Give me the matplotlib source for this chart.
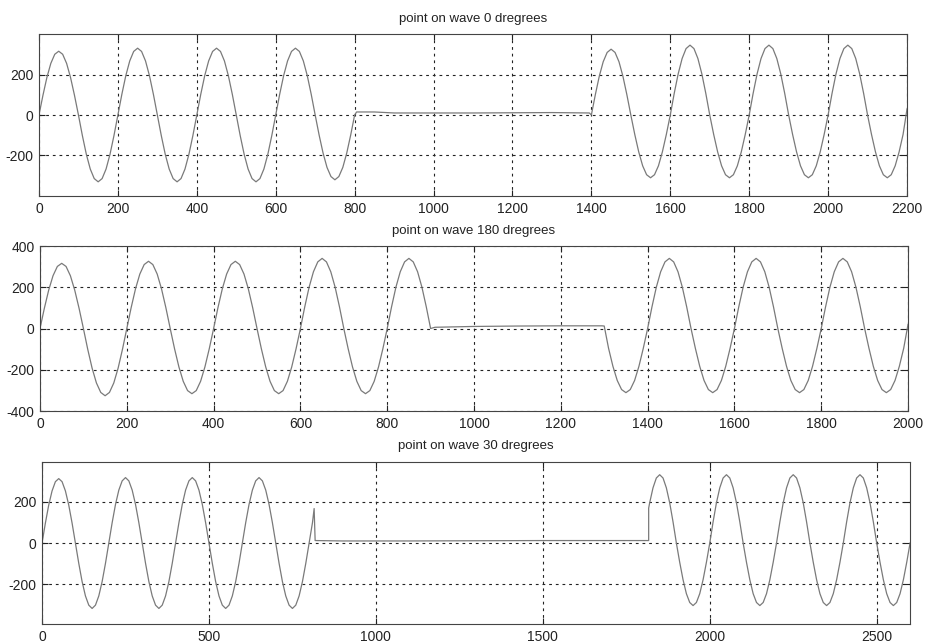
import matplotlib.pyplot as plt
import numpy as np

plt.rcParams['font.family'] = ['Liberation Sans', 'DejaVu Sans']
plt.rcParams['axes.unicode_minus'] = False

# sampled waveform readings, one value every 10 samples
step = 10

# --- point on wave 0 degrees ---
wave0_a = [  # samples 0..800
    0, 97, 185, 255, 300, 315, 300, 255, 185, 97, 0, -102, -194, -267, -314, -330, -314, -267, -194, -102,
    0, 102, 194, 267, 314, 330, 314, 267, 194, 102, 0, -102, -194, -267, -314, -330, -314, -267, -194, -102,
    0, 102, 194, 267, 314, 330, 314, 267, 194, 102, 0, -102, -194, -267, -314, -330, -314, -267, -194, -102,
    0, 102, 194, 267, 314, 330, 314, 267, 194, 102, 0, -99, -188, -259, -304, -320, -304, -259, -188, -99,
    0]
wave0_gap_t = [805, 850, 900, 1100, 1300, 1395]
wave0_gap_y = [15, 15, 10, 10, 12, 10]
wave0_b = [  # samples 1400..2200
    0, 100, 191, 263, 309, 325, 309, 263, 191, 100, 0, -96, -182, -251, -295, -310, -295, -251, -182, -96,
    0, 107, 203, 279, 328, 345, 328, 279, 203, 107, 0, -96, -182, -251, -295, -310, -295, -251, -182, -96,
    0, 107, 203, 279, 328, 345, 328, 279, 203, 107, 0, -96, -182, -251, -295, -310, -295, -251, -182, -96,
    0, 107, 203, 279, 328, 345, 328, 279, 203, 107, 0, -96, -182, -251, -295, -310, -295, -251, -182, -96,
    30]

# --- point on wave 180 degrees ---
wave180_a = [  # samples 0..900
    0, 98, 186, 256, 301, 316, 301, 256, 186, 98, 0, -101, -192, -264, -310, -326, -310, -264, -192, -101,
    0, 101, 192, 264, 310, 326, 310, 264, 192, 101, 0, -98, -186, -256, -301, -316, -301, -256, -186, -98,
    0, 101, 192, 264, 310, 326, 310, 264, 192, 101, 0, -98, -186, -256, -301, -316, -301, -256, -186, -98,
    0, 105, 200, 275, 323, 340, 323, 275, 200, 105, 0, -98, -186, -256, -301, -316, -301, -256, -186, -98,
    0, 105, 200, 275, 323, 340, 323, 275, 200, 105, 0]
wave180_gap_t = [910, 1000, 1100, 1200, 1295]
wave180_gap_y = [6, 10, 12, 13, 13]
wave180_b = [  # samples 1300..2000
    12, -96, -183, -252, -296, -311, -296, -252, -183, -96,
    0, 105, 200, 275, 323, 340, 323, 275, 200, 105, 0, -96, -183, -252, -296, -311, -296, -252, -183, -96,
    0, 105, 200, 275, 323, 340, 323, 275, 200, 105, 0, -96, -183, -252, -296, -311, -296, -252, -183, -96,
    0, 105, 200, 275, 323, 340, 323, 275, 200, 105, 0, -96, -183, -252, -296, -311, -296, -252, -183, -96,
    20]

# --- point on wave 30 degrees ---
wave30_a = [  # samples 0..810
    0, 97, 185, 254, 299, 314, 299, 254, 185, 97, 0, -99, -188, -258, -303, -319, -303, -258, -188, -99,
    0, 99, 188, 258, 303, 319, 303, 258, 188, 99, 0, -99, -188, -258, -303, -319, -303, -258, -188, -99,
    0, 99, 188, 258, 303, 319, 303, 258, 188, 99, 0, -99, -188, -258, -303, -319, -303, -258, -188, -99,
    0, 99, 188, 258, 303, 319, 303, 258, 188, 99, 0, -99, -188, -258, -303, -319, -303, -258, -188, -99,
    0, 99]
wave30_gap_t = [815, 818, 900, 1100, 1300, 1500, 1700, 1817, 1817]
wave30_gap_y = [168, 12, 10, 10, 11, 12, 12, 12, 170]
wave30_b = [  # samples 1820..2600
    196, 269, 317, 333, 317, 269, 196, 103, 0, -94, -179, -247, -290, -305, -290, -247, -179, -94,
    0, 103, 196, 269, 317, 333, 317, 269, 196, 103, 0, -94, -179, -247, -290, -305, -290, -247, -179, -94,
    0, 103, 196, 269, 317, 333, 317, 269, 196, 103, 0, -94, -179, -247, -290, -305, -290, -247, -179, -94,
    0, 103, 196, 269, 317, 333, 317, 269, 196, 103, 0, -94, -179, -247, -290, -305, -290, -247, -179, -94,
    0]

titles = ['point on wave 0 dregrees', 'point on wave 180 dregrees', 'point on wave 30 dregrees']
xlims = [2200, 2000, 2600]
xtick_steps = [200, 200, 500]
ylims = [400, 400, 395]
ytick_sets = [[-200, 0, 200], [-400, -200, 0, 200, 400], [-200, 0, 200]]


def join(a, a0, gap_t, gap_y, b, b0):
    t = np.concatenate([a0 + step * np.arange(len(a)), gap_t, b0 + step * np.arange(len(b))])
    y = np.concatenate([a, gap_y, b])
    return t, y


series = [join(wave0_a, 0, wave0_gap_t, wave0_gap_y, wave0_b, 1400),
          join(wave180_a, 0, wave180_gap_t, wave180_gap_y, wave180_b, 1300),
          join(wave30_a, 0, wave30_gap_t, wave30_gap_y, wave30_b, 1820)]

fig = plt.figure(figsize=(9.26, 6.43), dpi=100)
boxes = [[0.0421, 0.6952, 0.9374, 0.2519],
         [0.0432, 0.3608, 0.9374, 0.2566],
         [0.0454, 0.0295, 0.9374, 0.2520]]

for k in range(3):
    ax = fig.add_axes(boxes[k])
    t, y = series[k]
    ax.plot(t, y, color='#7a7a7a', lw=0.9)
    ax.set_xlim(0, xlims[k])
    ax.set_ylim(-ylims[k], ylims[k])
    ax.set_xticks(np.arange(0, xlims[k] + 1, xtick_steps[k]))
    ax.set_yticks(ytick_sets[k])
    ax.grid(True, color='#222222', linestyle=(0, (2.5, 3.5)), lw=0.8)
    ax.tick_params(direction='in', top=True, right=True, length=4, width=0.8,
                   labelsize=10, colors='#222222', pad=4)
    for s in ax.spines.values():
        s.set_color('#444444')
        s.set_linewidth(0.8)
    ax.set_title(titles[k], fontsize=9.5, color='#222222', pad=9)

plt.savefig('out.png', dpi=100)
